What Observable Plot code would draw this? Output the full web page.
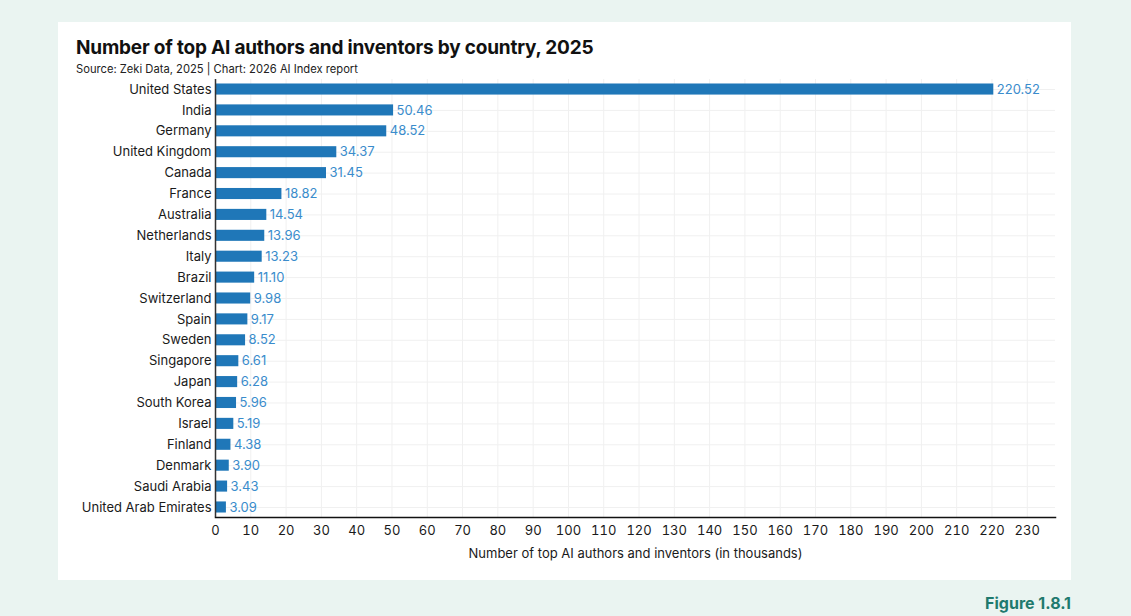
<!DOCTYPE html>
<html><head><meta charset="utf-8">
<script src="https://cdn.jsdelivr.net/npm/d3@7"></script>
<script src="https://cdn.jsdelivr.net/npm/@observablehq/plot@0.6"></script>
<style>
html,body{margin:0;padding:0;background:#eaf4f1;width:1131px;height:616px;overflow:hidden;font-family:Inter,"Noto Sans",sans-serif;}
#card{position:absolute;left:58px;top:22px;width:1013px;height:558px;background:#fff;}
#title{position:absolute;left:18px;top:14px;font-size:19px;font-weight:700;color:#111;letter-spacing:-0.2px;}
#sub{position:absolute;left:18px;top:40px;font-size:11.2px;color:#222;}
#chart{position:absolute;left:0;top:52px;}
#fig{position:absolute;right:60px;top:593px;font-size:16px;font-weight:700;color:#1f7a6e;}
</style></head>
<body>
<div id="card">
<div id="title">Number of top AI authors and inventors by country, 2025</div>
<div id="sub">Source: Zeki Data, 2025 | Chart: 2026 AI Index report</div>
<div id="chart"></div>
</div>
<div id="fig">Figure 1.8.1</div>
<script>
const countries = ["United States","India","Germany","United Kingdom","Canada","France","Australia","Netherlands","Italy","Brazil","Switzerland","Spain","Sweden","Singapore","Japan","South Korea","Israel","Finland","Denmark","Saudi Arabia","United Arab Emirates"];
const values = [220.52,50.46,48.52,34.37,31.45,18.82,14.54,13.96,13.23,11.10,9.98,9.17,8.52,6.61,6.28,5.96,5.19,4.38,3.90,3.43,3.09];
const xTicks = d3.range(0, 240, 10);
const data = countries.map((c,i)=>({country:c, value:values[i]}));

const chart = Plot.plot({
  width: 1013, height: 496,
  marginLeft: 157, marginRight: 16, marginTop: 5, marginBottom: 53,
  style: {fontFamily: "Inter, 'Noto Sans', sans-serif", fontSize: "13px", color: "#1a1a1a", background: "transparent"},
  x: {domain: [0, 238], ticks: xTicks, label: "Number of top AI authors and inventors (in thousands)", labelArrow: "none", labelAnchor: "center", labelOffset: 40, tickSize: 0, tickPadding: 8},
  y: {domain: countries, round: false, paddingInner: 0.47, paddingOuter: 0.215, label: null, tickSize: 0, tickPadding: 4},
  marks: [
    Plot.gridX(xTicks, {stroke: "#f0f0f0", strokeOpacity: 1}),
    Plot.ruleY(countries, {y: d => d, stroke: "#f0f0f0", strokeWidth: 1}),
    Plot.barX(data, {x: "value", y: "country", fill: "#1f77b8"}),
    Plot.text(data, {x: "value", y: "country", text: d => d.value.toFixed(2), textAnchor: "start", dx: 3, fill: "#3a8ccc", fontSize: 13}),
    Plot.frame({anchor: "bottom", stroke: "#111", strokeWidth: 1.5}),
    Plot.ruleX([0], {stroke: "#333", strokeWidth: 1.5})
  ]
});
document.getElementById("chart").appendChild(chart);
</script>
</body></html>
